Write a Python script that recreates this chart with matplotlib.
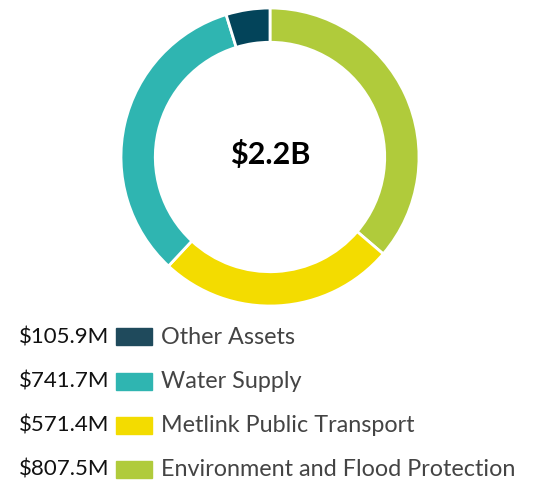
import matplotlib.pyplot as plt
from matplotlib.patches import Rectangle

# data, in the order drawn clockwise from the top of the ring
categories = ["Environment and Flood Protection", "Metlink Public Transport",
              "Water Supply", "Other Assets"]
values = [807.5, 571.4, 741.7, 105.9]
value_labels = ["$807.5M", "$571.4M", "$741.7M", "$105.9M"]
ring_colors = ["#b0cb3b", "#f3dc00", "#2fb5b1", "#03445a"]
legend_colors = ["#b0cb3b", "#f3dc00", "#2fb5b1", "#1f4a5c"]
total_label = "$2.2B"

W, H = 545, 487
fig = plt.figure(figsize=(W / 100, H / 100), dpi=100)

# donut
cx, cy, r = 270, 157, 149
ax = fig.add_axes([(cx - r) / W, 1 - (cy + r) / H, 2 * r / W, 2 * r / H])
ax.pie(values, colors=ring_colors, startangle=90, counterclock=False,
       radius=1, wedgeprops=dict(width=0.23, edgecolor="white", linewidth=2))
ax.set_xlim(-1, 1)
ax.set_ylim(-1, 1)
ax.set_aspect("equal")
ax.axis("off")
ax.text(0, 0.02, total_label, ha="center", va="center", fontsize=22,
        fontweight="bold", family="Lato", color="black")

# legend, listed bottom-up in the reverse of the ring order
row_y = [469, 425, 381, 336]
for i, (lab, val, col) in enumerate(zip(categories, value_labels, legend_colors)):
    y = row_y[i]
    fig.text(109 / W, 1 - (y + 1) / H, val, ha="right", va="center", fontsize=16,
             family="Lato", color="#111111")
    fig.patches.append(Rectangle((116 / W, 1 - (y + 8.5) / H), 36 / W, 17 / H,
                                 transform=fig.transFigure, color=col))
    fig.text(161 / W, 1 - (y + 1) / H, lab, ha="left", va="center", fontsize=16.8,
             family="Lato", color="#444444")

fig.savefig("out.png", dpi=100)
